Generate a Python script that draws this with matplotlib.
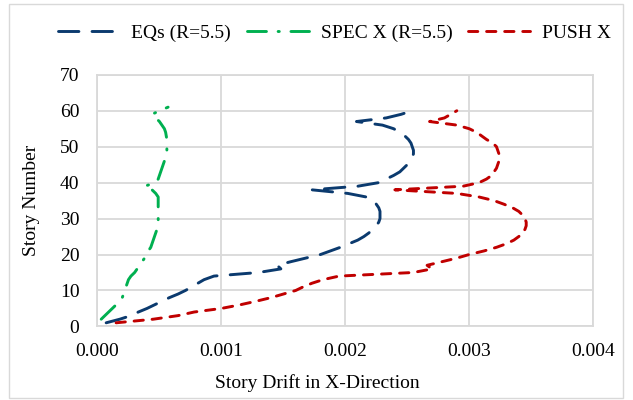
import matplotlib
matplotlib.use("Agg")
import matplotlib.pyplot as plt
from matplotlib.patches import Rectangle
from matplotlib.ticker import FormatStrFormatter

plt.rcParams['font.family'] = ['Liberation Serif', 'DejaVu Serif']

# story levels and drift ratios (x1e-3) per load case
eq_story = [1, 2, 3, 4, 5, 6, 7, 8, 9, 10, 11, 12, 13, 14, 15, 16, 17, 18, 19, 20,
            21, 22, 23, 24, 25, 26, 27, 28, 29, 30, 31, 32, 33, 34, 35, 36, 37, 38, 39, 40,
            41, 42, 43, 44, 45, 46, 47, 48, 49, 50, 51, 52, 53, 54, 55, 56, 57, 58, 59, 60]
eq_drift = [0.07, 0.18, 0.27, 0.33, 0.40, 0.46, 0.52, 0.58, 0.65, 0.71, 0.76, 0.81, 0.86, 0.94, 1.30,
            1.48, 1.45, 1.56, 1.68, 1.80, 1.88, 1.96, 2.03, 2.10, 2.15, 2.19, 2.22, 2.25, 2.27, 2.28,
            2.28, 2.28, 2.27, 2.25, 2.23, 2.17, 2.02, 1.73, 2.10, 2.27, 2.33, 2.39, 2.44, 2.47, 2.50,
            2.52, 2.54, 2.55, 2.55, 2.54, 2.53, 2.51, 2.48, 2.44, 2.39, 2.30, 2.09, 2.33, 2.45, 2.54]

spec_story = [2, 3, 4, 5, 6, 7, 8, 9, 10, 11, 12, 13, 14, 15, 16, 17, 18, 19, 20, 21,
              22, 23, 24, 25, 26, 27, 28, 29, 30, 31, 32, 33, 34, 35, 36, 37, 38, 39, 40, 41,
              42, 43, 44, 45, 46, 47, 48, 49, 50, 51, 52, 53, 54, 55, 56, 57, 58, 59, 60, 61]
spec_drift = [0.03, 0.06, 0.09, 0.12, 0.15, 0.18, 0.20, 0.21, 0.22, 0.23, 0.24, 0.25, 0.27, 0.30, 0.32,
              0.34, 0.36, 0.38, 0.40, 0.41, 0.43, 0.44, 0.45, 0.46, 0.47, 0.48, 0.485, 0.49, 0.49, 0.49,
              0.49, 0.49, 0.49, 0.49, 0.49, 0.47, 0.44, 0.38, 0.47, 0.49, 0.50, 0.51, 0.52, 0.53, 0.54,
              0.55, 0.555, 0.56, 0.56, 0.56, 0.56, 0.555, 0.55, 0.54, 0.52, 0.50, 0.47, 0.44, 0.50, 0.57]

push_story = eq_story
push_drift = [0.15, 0.45, 0.65, 0.78, 1.00, 1.15, 1.28, 1.40, 1.50, 1.60, 1.66, 1.73, 1.82, 1.95, 2.55,
              2.70, 2.66, 2.78, 2.90, 3.00, 3.12, 3.22, 3.30, 3.36, 3.40, 3.43, 3.45, 3.46, 3.46, 3.45,
              3.43, 3.40, 3.35, 3.28, 3.20, 3.08, 2.90, 2.40, 2.95, 3.08, 3.14, 3.18, 3.20, 3.22, 3.23,
              3.24, 3.24, 3.24, 3.23, 3.22, 3.19, 3.14, 3.10, 3.06, 3.00, 2.90, 2.68, 2.80, 2.85, 2.90]

labels = ['EQs (R=5.5)', 'SPEC X (R=5.5)', 'PUSH X']
colors = ['#0B3A6E', '#00B050', '#C00000']

fig = plt.figure(figsize=(6.33, 4.0), dpi=100)
ax = fig.add_axes([0.154, 0.184, 0.783, 0.629])

lw = 2.1
ax.plot([d * 1e-3 for d in eq_drift], eq_story, color=colors[0], lw=lw,
        dashes=(7.0, 4.5), dash_capstyle='round', label=labels[0])
ax.plot([d * 1e-3 for d in spec_drift], spec_story, color=colors[1], lw=lw,
        dashes=(6.5, 4.0, 0.4, 4.0), dash_capstyle='round', label=labels[1])
ax.plot([d * 1e-3 for d in push_drift], push_story, color=colors[2], lw=lw,
        dashes=(3.2, 3.0), dash_capstyle='round', label=labels[2])

ax.set_xlim(0, 0.004)
ax.set_ylim(0, 70)
ax.set_xticks([0, 0.001, 0.002, 0.003, 0.004])
ax.set_yticks(range(0, 71, 10))
ax.xaxis.set_major_formatter(FormatStrFormatter('%.3f'))
ax.tick_params(length=0, labelsize=14, colors='black')
ax.tick_params(axis='x', pad=12)
ax.tick_params(axis='y', pad=13)
ax.grid(True, color='#D9D9D9', lw=1.3)
ax.set_axisbelow(True)
for s in ax.spines.values():
    s.set_color('#D9D9D9')
    s.set_linewidth(1.3)

fig.text(0.05, 0.50, 'Story Number', rotation=90, ha='center', va='center', fontsize=14)
fig.text(0.502, 0.043, 'Story Drift in X-Direction', ha='center', va='center', fontsize=14)

fig.legend(loc='center', bbox_to_anchor=(0.528, 0.918), ncol=3, frameon=False,
           fontsize=14, handlelength=3.2, handletextpad=0.6, columnspacing=0.8)

# light chart-area border
fig.patches.append(Rectangle((0.014, 0.005), 0.97, 0.985, transform=fig.transFigure,
                             fill=False, edgecolor='#D9D9D9', lw=1.0))

fig.savefig('out.png', dpi=100)
